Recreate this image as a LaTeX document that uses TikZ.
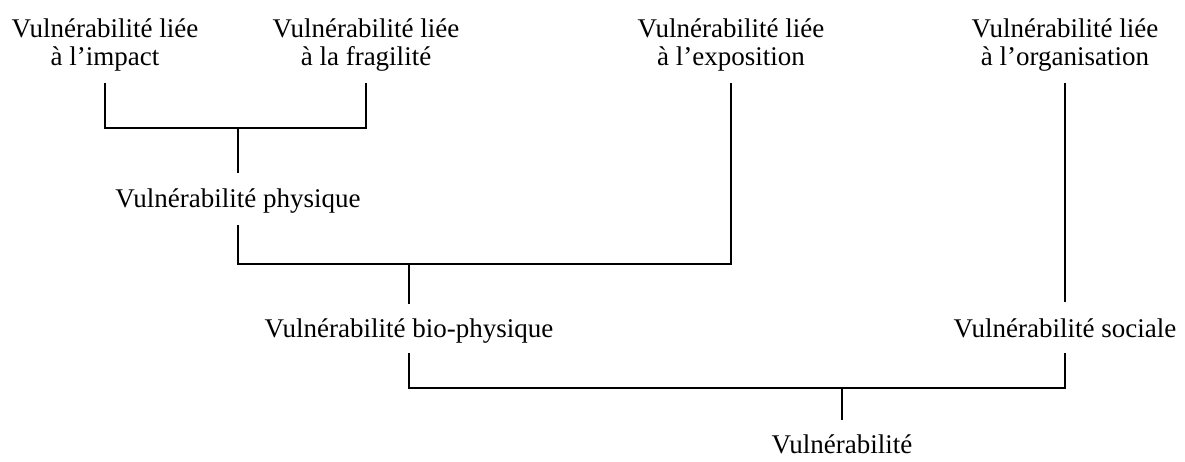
\documentclass[tikz,border=0pt]{standalone}
\usepackage{fontspec}
\setmainfont{Liberation Serif}
\begin{document}
\begin{tikzpicture}[x=1pt,y=-1pt,
  lbl/.style={inner sep=0pt, outer sep=0pt, font=\fontsize{27pt}{28pt}\selectfont},
  one/.style={lbl, anchor=base, text height=19pt, text depth=6pt},
  two/.style={lbl, anchor=north, align=center},
  link/.style={line width=1.4pt},
  stem/.style={line width=2pt}]
\useasboundingbox (0,0) rectangle (1185,462);
% labels
\node[two] (imp) at (105,18.5) {Vulnérabilité liée\\à l’impact};
\node[two] (fra) at (366,18.5) {Vulnérabilité liée\\à la fragilité};
\node[two] (exp) at (731,18.5) {Vulnérabilité liée\\à l’exposition};
\node[two] (org) at (1065,18.5) {Vulnérabilité liée\\à l’organisation};
\node[one] (phy) at (238,208) {Vulnérabilité physique};
\node[one] (bio) at (409,337) {Vulnérabilité bio-physique};
\node[one] (soc) at (1065,337) {Vulnérabilité sociale};
\node[one] (vul) at (842,453) {Vulnérabilité};
% junctions
\coordinate (j1) at (238,128);
\coordinate (j2) at (409,264);
\coordinate (j3) at (842,388);
% connectors
\draw[link] ([yshift=-12pt]imp.south) |- (j1) -| ([yshift=-12pt]fra.south);
\draw[stem] (j1) -- ([yshift=16pt]phy.north);
\draw[link] ([yshift=-11pt]phy.south) |- (j2) -| ([yshift=-12pt]exp.south);
\draw[stem] (j2) -- ([yshift=14pt]bio.north);
\draw[link] ([yshift=-12pt]org.south) -- ([yshift=16pt]soc.north);
\draw[link] ([yshift=-10pt]bio.south) |- (j3) -| ([yshift=-10pt]soc.south);
\draw[stem] (j3) -- ([yshift=14pt]vul.north);
\end{tikzpicture}
\end{document}
